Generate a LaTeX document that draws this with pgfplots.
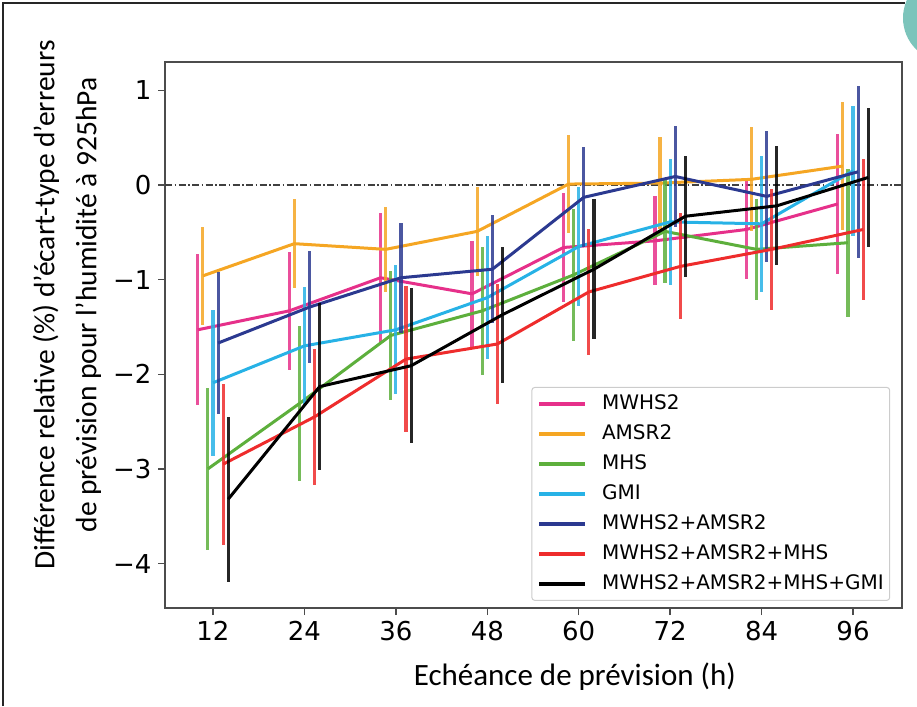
\documentclass[border=0pt]{standalone}
\usepackage{fontspec}
\setmainfont{DejaVu Sans}
\newfontfamily\carlito{Carlito}
\usepackage{pgfplots}
\usepackage{pgfplotstable}
\pgfplotsset{compat=1.18}
\definecolor{cMW}{HTML}{E6308A}
\definecolor{cAM}{HTML}{F5A623}
\definecolor{cMH}{HTML}{5DAF3C}
\definecolor{cGM}{HTML}{27B2E6}
\definecolor{cMA}{HTML}{2B3990}
\definecolor{cMAM}{HTML}{EE2C2C}
\definecolor{tealc}{HTML}{7CC4BB}

% MWHS2 (x = t - 2)
\pgfplotstableread{
x y e
10 -1.53 0.80
22 -1.33 0.62
34 -0.98 0.68
46 -1.15 0.56
58 -0.66 0.58
70 -0.59 0.47
82 -0.47 0.52
94 -0.20 0.74
}\tMW
% AMSR2 (x = t - 1.33)
\pgfplotstableread{
x y e
10.67 -0.96 0.52
22.67 -0.62 0.47
34.67 -0.68 0.45
46.67 -0.49 0.47
58.67 0.01 0.52
70.67 0.02 0.49
82.67 0.06 0.55
94.67 0.20 0.68
}\tAM
% MHS (x = t - 0.67)
\pgfplotstableread{
x y e
11.33 -3.00 0.86
23.33 -2.31 0.82
35.33 -1.59 0.68
47.33 -1.33 0.68
59.33 -0.95 0.70
71.33 -0.49 0.55
83.33 -0.68 0.53
95.33 -0.61 0.78
}\tMH
% GMI (x = t)
\pgfplotstableread{
x y e
12 -2.09 0.77
24 -1.70 0.62
36 -1.53 0.68
48 -1.19 0.65
60 -0.65 0.63
72 -0.39 0.67
84 -0.41 0.72
96 0.15 0.69
}\tGM
% MWHS2+AMSR2 (x = t + 0.67)
\pgfplotstableread{
x y e
12.67 -1.67 0.75
24.67 -1.29 0.59
36.67 -0.98 0.58
48.67 -0.89 0.57
60.67 -0.13 0.53
72.67 0.09 0.53
84.67 -0.12 0.69
96.67 0.14 0.91
}\tMA
% MWHS2+AMSR2+MHS (x = t + 1.33)
\pgfplotstableread{
x y e
13.33 -2.95 0.85
25.33 -2.45 0.72
37.33 -1.84 0.77
49.33 -1.68 0.63
61.33 -1.13 0.67
73.33 -0.86 0.56
85.33 -0.68 0.64
97.33 -0.47 0.74
}\tMAM
% MWHS2+AMSR2+MHS+GMI (x = t + 2)
\pgfplotstableread{
x y e
14 -3.32 0.87
26 -2.13 0.88
38 -1.91 0.82
50 -1.37 0.72
62 -0.89 0.74
74 -0.33 0.64
86 -0.22 0.63
98 0.08 0.73
}\tALL

\pgfplotsset{
  ser/.style={#1, line width=3pt, no marks,
    error bars/.cd, y dir=both, y explicit, error mark=none,
    error bar style={line width=3.2pt, #1, opacity=0.85}},
}

\begin{document}
\begin{tikzpicture}
\useasboundingbox (0,0) rectangle (917pt,706pt);
\fill[tealc] (947pt,688pt) circle (44pt);
\draw[black!85,line width=1.5pt] (3pt,0pt) -- (3pt,703pt) -- (905pt,703pt);
\begin{axis}[
  at={(165pt,98pt)}, anchor=south west,
  scale only axis, width=737pt, height=546pt,
  xmin=5.7, xmax=102.43, ymin=-4.47, ymax=1.30,
  xtick={12,24,36,48,60,72,84,96},
  xticklabels={12,24,36,48,60,72,84,96},
  ytick={-4,-3,-2,-1,0,1},
  yticklabels={−4,−3,−2,−1,0,1},
  xtick pos=bottom, ytick pos=left,
  tick align=outside, major tick length=7pt,
  tick style={black!70, line width=1.5pt},
  axis line style={black!70, line width=1.5pt},
  ticklabel style={font=\fontsize{26}{30}\selectfont},
  xticklabel style={yshift=-3pt},
  yticklabel style={xshift=-3pt},
  xlabel={Echéance de prévision (h)},
  xlabel style={font=\carlito\fontsize{31}{36}\selectfont, at={(axis description cs:0.556,-0.126)}, anchor=center},
  ylabel={Différence relative (\%) d’écart-type d’erreurs\\de prévision pour l’humidité à 925hPa},
  ylabel style={font=\carlito\fontsize{29.5}{42}\selectfont, align=center, at={(axis description cs:-0.133,0.555)}, anchor=center},
  legend style={at={(axis description cs:0.984,0.013)}, anchor=south east,
    font=\fontsize{20}{24}\selectfont, draw=black!20, line width=1pt,
    rounded corners=3pt, fill=white, fill opacity=0.85, text opacity=1,
    inner xsep=6pt, inner ysep=7pt, row sep=11pt,
    nodes={inner sep=0pt, text height=15pt, text depth=4pt},
    /tikz/every odd column/.append style={column sep=15pt}},
  legend cell align=left,
  legend image code/.code={\draw[#1, line width=3.2pt, opacity=1] (0pt,0pt) -- (46pt,0pt);},
]
\addplot[forget plot, black!75, line width=1.3pt, dash pattern=on 7pt off 2.5pt on 1.5pt off 2.5pt] coordinates {(5.7,0) (102.43,0)};
\addplot[ser=cMW] table[x=x,y=y,y error=e]{\tMW};
\addlegendentry{MWHS2}
\addplot[ser=cAM] table[x=x,y=y,y error=e]{\tAM};
\addlegendentry{AMSR2}
\addplot[ser=cMH] table[x=x,y=y,y error=e]{\tMH};
\addlegendentry{MHS}
\addplot[ser=cGM] table[x=x,y=y,y error=e]{\tGM};
\addlegendentry{GMI}
\addplot[ser=cMA] table[x=x,y=y,y error=e]{\tMA};
\addlegendentry{MWHS2+AMSR2}
\addplot[ser=cMAM] table[x=x,y=y,y error=e]{\tMAM};
\addlegendentry{MWHS2+AMSR2+MHS}
\addplot[ser=black] table[x=x,y=y,y error=e]{\tALL};
\addlegendentry{MWHS2+AMSR2+MHS+GMI}
\end{axis}
\end{tikzpicture}
\end{document}
